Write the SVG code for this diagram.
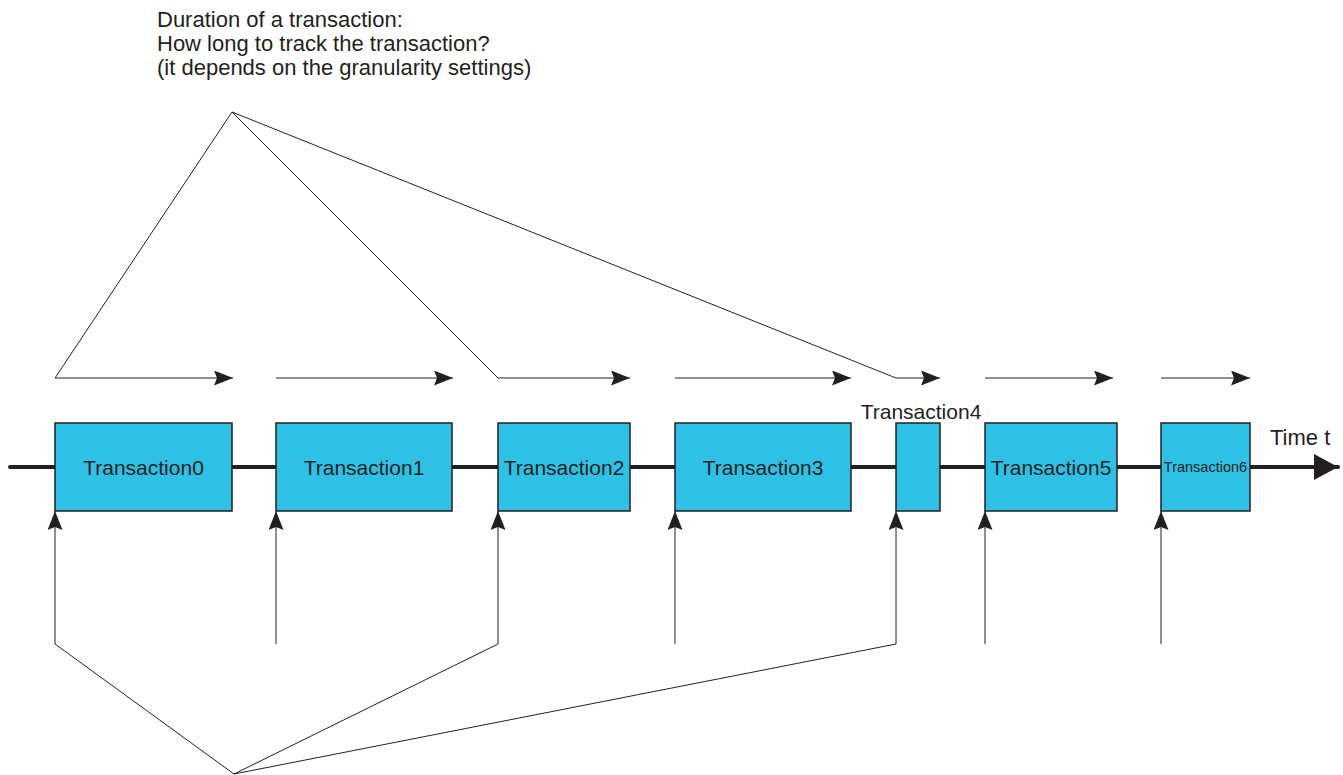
<svg xmlns="http://www.w3.org/2000/svg" width="1343" height="775" viewBox="0 0 1343 775">
  <style>
    .box { fill: #2fc0e6; stroke: #231f20; stroke-width: 1.5; }
    .lbl { font-family: "Liberation Sans", Arial, sans-serif; font-size: 21px; fill: #231f20; }
    .cap { font-family: "Liberation Sans", Arial, sans-serif; font-size: 22px; fill: #231f20; }
    .small { font-family: "Liberation Sans", Arial, sans-serif; font-size: 14.5px; fill: #231f20; }
    .thin { fill: none; stroke: #231f20; stroke-width: 1; }
    .dur { fill: none; stroke: #231f20; stroke-width: 1.2; marker-end: url(#head); }
    .start { fill: none; stroke: #231f20; stroke-width: 1; marker-end: url(#head); }
  </style>
  <defs>
    <marker id="head" viewBox="0 0 19 15" refX="19" refY="7.5" markerWidth="19" markerHeight="15" markerUnits="userSpaceOnUse" orient="auto">
      <path d="M0,0 L19,7.5 L0,15 L3,7.5 Z" fill="#231f20"/>
    </marker>
    <marker id="bighead" viewBox="0 0 24 26" refX="24" refY="13" markerWidth="24" markerHeight="26" markerUnits="userSpaceOnUse" orient="auto">
      <path d="M0,0 L24,13 L0,26 Z" fill="#231f20"/>
    </marker>
  </defs>

  <rect width="1343" height="775" fill="#ffffff"/>

  <!-- caption -->
  <text class="cap" x="157" y="27">Duration of a transaction:</text>
  <text class="cap" x="157" y="51">How long to track the transaction?</text>
  <text class="cap" x="157" y="75">(it depends on the granularity settings)</text>

  <!-- time axis -->
  <g id="axis">
    <line x1="10" y1="467" x2="1338" y2="467" stroke="#231f20" stroke-width="4" stroke-linecap="round" marker-end="url(#bighead)"/>
    <text class="cap" x="1270" y="445">Time t</text>
  </g>

  <!-- transaction blocks -->
  <g id="t0"><rect class="box" x="55" y="423" width="177" height="88"/><text class="lbl" x="143.5" y="475" text-anchor="middle">Transaction0</text></g>
  <g id="t1"><rect class="box" x="276" y="423" width="176" height="88"/><text class="lbl" x="364" y="475" text-anchor="middle">Transaction1</text></g>
  <g id="t2"><rect class="box" x="498" y="423" width="132" height="88"/><text class="lbl" x="564" y="475" text-anchor="middle">Transaction2</text></g>
  <g id="t3"><rect class="box" x="675" y="423" width="176" height="88"/><text class="lbl" x="763" y="475" text-anchor="middle">Transaction3</text></g>
  <g id="t4"><rect class="box" x="896" y="423" width="44" height="88"/><text class="lbl" x="921" y="419" text-anchor="middle">Transaction4</text></g>
  <g id="t5"><rect class="box" x="985" y="423" width="132" height="88"/><text class="lbl" x="1051" y="475" text-anchor="middle">Transaction5</text></g>
  <g id="t6"><rect class="box" x="1161" y="423" width="89" height="88"/><text class="small" x="1205.5" y="472" text-anchor="middle">Transaction6</text></g>

  <g id="connectors">
    <!-- duration arrows -->
    <line class="dur" x1="55" y1="378" x2="233" y2="378"/>
    <line class="dur" x1="276" y1="378" x2="453" y2="378"/>
    <line class="dur" x1="498" y1="378" x2="630" y2="378"/>
    <line class="dur" x1="675" y1="378" x2="851" y2="378"/>
    <line class="dur" x1="896" y1="378" x2="940" y2="378"/>
    <line class="dur" x1="985" y1="378" x2="1113" y2="378"/>
    <line class="dur" x1="1161" y1="378" x2="1250" y2="378"/>
    <!-- caption fan -->
    <polyline class="thin" points="55,378 232,112 498,378"/>
    <line class="thin" x1="232" y1="112" x2="896" y2="378"/>
    <!-- start arrows -->
    <line class="start" x1="55" y1="644" x2="55" y2="511"/>
    <line class="start" x1="276" y1="644" x2="276" y2="511"/>
    <line class="start" x1="498" y1="644" x2="498" y2="511"/>
    <line class="start" x1="675" y1="644" x2="675" y2="511"/>
    <line class="start" x1="896" y1="644" x2="896" y2="511"/>
    <line class="start" x1="985" y1="644" x2="985" y2="511"/>
    <line class="start" x1="1161" y1="644" x2="1161" y2="511"/>
    <!-- lower fan -->
    <polyline class="thin" points="55,644 234,774 498,644"/>
    <line class="thin" x1="234" y1="774" x2="896" y2="644"/>
  </g>
</svg>
